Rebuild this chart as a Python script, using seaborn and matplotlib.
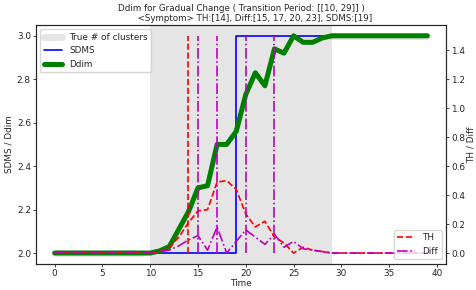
import numpy as np
import seaborn as sns
import matplotlib
matplotlib.use("Agg")
import matplotlib.pyplot as plt

sns.set_style("ticks")
plt.rcParams["font.family"] = ["DejaVu Sans"]
plt.rcParams["font.size"] = 6.4

time = np.arange(40)

# number of clusters (left axis)
true_k = [2, 2, 2, 2, 2, 2, 2, 2, 2, 2,
          np.nan, np.nan, np.nan, np.nan, np.nan, np.nan, np.nan, np.nan, np.nan, np.nan,
          np.nan, np.nan, np.nan, np.nan, np.nan, np.nan, np.nan, np.nan, np.nan, 3,
          3, 3, 3, 3, 3, 3, 3, 3, 3, 3]
sdms = [2, 2, 2, 2, 2, 2, 2, 2, 2, 2,
        2, 2, 2, 2, 2, 2, 2, 2, 2, 3,
        3, 3, 3, 3, 3, 3, 3, 3, 3, 3,
        3, 3, 3, 3, 3, 3, 3, 3, 3, 3]
ddim = [2.0, 2.0, 2.0, 2.0, 2.0, 2.0, 2.0, 2.0, 2.0, 2.0,
        2.0, 2.01, 2.03, 2.11, 2.19, 2.30, 2.31, 2.50, 2.50, 2.56,
        2.73, 2.83, 2.77, 2.94, 2.92, 3.0, 2.97, 2.97, 2.99, 3.0,
        3.0, 3.0, 3.0, 3.0, 3.0, 3.0, 3.0, 3.0, 3.0, 3.0]

# scores (right axis)
th = [0, 0, 0, 0, 0, 0, 0, 0, 0, 0,
      0, 0.01, 0.04, 0.11, 0.21, 0.29, 0.30, 0.49, 0.50, 0.44,
      0.27, 0.18, 0.22, 0.11, 0.07, 0.0, 0.04, 0.02, 0.01, 0,
      0, 0, 0, 0, 0, 0, 0, 0, 0, 0]
diff = [0, 0, 0, 0, 0, 0, 0, 0, 0, 0,
        0, 0.01, 0.02, 0.05, 0.09, 0.12, 0.02, 0.18, 0.0, 0.08,
        0.16, 0.11, 0.06, 0.13, 0.04, 0.08, 0.03, 0.02, 0.01, 0,
        0, 0, 0, 0, 0, 0, 0, 0, 0, 0]

transition = [10, 29]
th_symptoms = [14]
diff_symptoms = [15, 17, 20, 23]
sdms_symptoms = [19]
symptom_low, symptom_high = 0, 1.5

fig, ax = plt.subplots(figsize=(4.77, 2.9), dpi=100)
fig.subplots_adjust(left=0.0755, right=0.935, top=0.914, bottom=0.09)

ax.axvspan(transition[0], transition[1], color="gray", alpha=0.2, lw=0)
ax.plot(time, true_k, color="gray", alpha=0.2, lw=5, label="True # of clusters")
sns.lineplot(x=time, y=sdms, ax=ax, color="b", lw=1.2, drawstyle="steps-post", label="SDMS")
sns.lineplot(x=time, y=ddim, ax=ax, color="g", lw=3.6, label="Ddim")
ax.set_xlabel("Time", labelpad=0.5)
ax.set_ylabel("SDMS / Ddim", labelpad=2)
ax.legend(loc="upper left")

ax2 = ax.twinx()
sns.lineplot(x=time, y=th, ax=ax2, color="r", lw=1.2, linestyle="--", label="TH")
sns.lineplot(x=time, y=diff, ax=ax2, color="m", lw=1.2, linestyle="-.", label="Diff")
ax2.vlines(th_symptoms, symptom_low, symptom_high, color="r", lw=1.2, linestyle="--")
ax2.vlines(diff_symptoms, symptom_low, symptom_high, color="m", lw=1.2, linestyle="-.")
ax2.set_ylabel("TH / Diff", labelpad=1)
ax2.legend(loc="lower right")

for a in (ax, ax2):
    a.tick_params(length=2.2, width=0.6, pad=1.5)
    for s in a.spines.values():
        s.set_linewidth(0.8)

ax.set_title("Ddim for Gradual Change ( Transition Period: [[10, 29]] )\n"
             + " " * 10 + "<Symptom> TH:%s, Diff:%s, SDMS:%s" % (th_symptoms, diff_symptoms, sdms_symptoms),
             fontsize=6.3, pad=2.5)

fig.savefig("out.png", dpi=100)
